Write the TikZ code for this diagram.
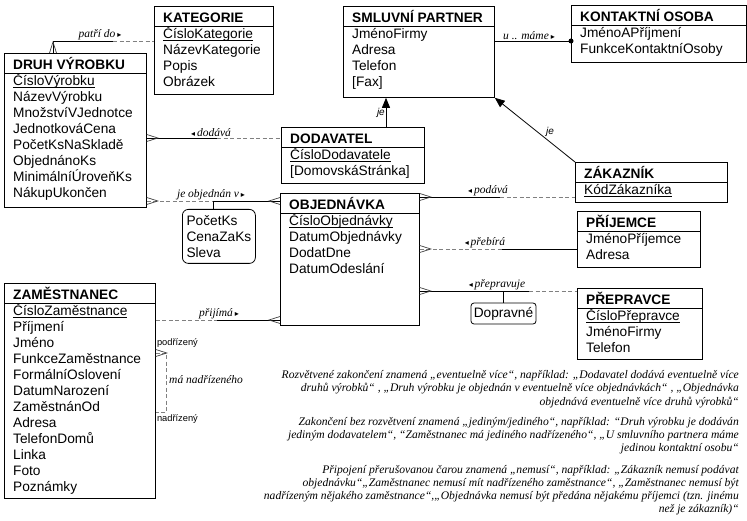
\documentclass[tikz,border=0pt]{standalone}
\usepackage{fontspec}
\setmainfont{Liberation Sans}
\newfontfamily\patkove{Liberation Serif}
\newfontfamily\symboly{DejaVu Sans}
\usepackage{tikz}
\usetikzlibrary{arrows.meta,positioning,calc}

\newcommand{\klic}[1]{\setbox0=\hbox{#1}\rlap{\rule[-2.3pt]{\wd0}{0.7pt}}\box0}
\newcommand{\vpravo}{\,{\symboly\upshape\fontsize{8}{8}\selectfont ▸}}
\newcommand{\vlevo}{{\symboly\upshape\fontsize{8}{8}\selectfont ◂}\,}

\begin{document}
\begin{tikzpicture}[x=1pt,y=-1pt,font=\fontsize{13.7}{16}\selectfont,
  entita/.style={draw,line width=0.8pt,anchor=north west,inner sep=0pt},
  nadpis/.style={anchor=base west,inner sep=0pt,font=\fontsize{13.7}{16}\selectfont\bfseries},
  polozky/.style={anchor=north west,inner sep=0pt,align=left},
  atrib/.style={draw,line width=0.8pt,rounded corners=6pt,align=left,inner xsep=3pt},
  plna/.style={line width=0.8pt},
  prer/.style={line width=0.8pt,black!50,dash pattern=on 4pt off 2.5pt},
  sipka/.style={line width=0.8pt,-{Triangle[length=10pt,width=8pt]}},
  popis/.style={inner sep=1pt,font=\patkove\itshape\fontsize{11.5}{12}\selectfont},
  jeje/.style={inner sep=1pt,font=\itshape\fontsize{10}{10}\selectfont},
  maly/.style={inner sep=1pt,font=\fontsize{9.3}{10}\selectfont},
  pozn/.style={anchor=base east,inner sep=0pt,font=\patkove\itshape\fontsize{11.6}{13}\selectfont},
  noha/.pic={\draw[line width=0.7pt,black!75] (0,-3.5) -- (11,0) -- (0,3.5);}]
\useasboundingbox (0,0) rectangle (747,521);

% entity
\foreach \jm/\x/\y/\w/\h/\nazev/\atr in {
  kat/154/6/119/88/KATEGORIE/{\klic{ČísloKategorie}\\NázevKategorie\\Popis\\Obrázek},
  druh/4/53/142/154/DRUH VÝROBKU/{\klic{ČísloVýrobku}\\NázevVýrobku\\MnožstvíVJednotce\\JednotkováCena\\PočetKsNaSkladě\\ObjednánoKs\\MinimálníÚroveňKs\\NákupUkončen},
  sml/343/6/151/91/SMLUVNÍ PARTNER/{JménoFirmy\\Adresa\\Telefon\\{[Fax]}},
  kont/571/5/175/57/KONTAKTNÍ OSOBA/{JménoAPříjmení\\FunkceKontaktníOsoby},
  dod/281/127/143/56/DODAVATEL/{\klic{ČísloDodavatele}\\{[DomovskáStránka]}},
  zak/575/162/152/40/ZÁKAZNÍK/{\klic{KódZákazníka}},
  obj/280/193/139/132/OBJEDNÁVKA/{\klic{ČísloObjednávky}\\DatumObjednávky\\DodatDne\\DatumOdeslání},
  prij/577/211/123/56/PŘÍJEMCE/{JménoPříjemce\\Adresa},
  prep/577/288/125/71/PŘEPRAVCE/{\klic{ČísloPřepravce}\\JménoFirmy\\Telefon},
  zam/4/283/151/215/ZAMĚSTNANEC/{\klic{ČísloZaměstnance}\\Příjmení\\Jméno\\FunkceZaměstnance\\FormálníOslovení\\DatumNarození\\ZaměstnánOd\\Adresa\\TelefonDomů\\Linka\\Foto\\Poznámky}}
{
  \node[entita,minimum width=\w,minimum height=\h] (\jm) at (\x,\y) {};
  \node[nadpis] (\jm-n) at ([shift={(9,16.5)}]\jm.north west) {\nazev};
  \draw[line width=0.8pt] ([shift={(0,20.5)}]\jm.north west) -- ([shift={(0,20.5)}]\jm.north east);
  \node[polozky] (\jm-p) at ([shift={(9,19.5)}]\jm.north west) {\rule{0pt}{13pt}\atr};
}

\node[atrib,anchor=north west,minimum width=73,minimum height=54] (pol) at (182,209) {PočetKs\\CenaZaKs\\Sleva};
\node[atrib,rounded corners=3pt,minimum width=65,minimum height=21,inner sep=1pt] (dopr) at (503.5,313.5) {Dopravné};

% patri do
\coordinate (p1) at ([xshift=49pt]druh.north west);
\coordinate (p2) at (113,41);
\draw[plna] (p1) |- (p2);
\draw[prer] (p2) -- (kat.west |- p2);
\node[popis,above,xshift=-13pt] (l-patri) at (p2) {patří do\vpravo};
\pic[rotate=90] at (p1) {noha};

% dodava
\coordinate (d1) at (druh.east |- 0,138);
\coordinate (d2) at (217,138);
\draw[plna] (d1) -- (d2);
\draw[prer] (d2) -- (dod.west |- d2);
\node[popis,above,xshift=-6pt] (l-dodava) at (d2) {\vlevo dodává};
\pic at (d1) {noha};

% je objednan v
\coordinate (o1) at (druh.east |- 0,201);
\coordinate (o2) at (213,201);
\draw[prer] (o1) -- (o2);
\draw[plna] (o2) -- (obj.west |- o2);
\draw[plna] (o2) -- (pol.north -| o2);
\node[popis,above,xshift=-2pt] (l-objednan) at (o2) {je objednán v\vpravo};
\pic at (o1) {noha};
\pic[rotate=180] at (obj.west |- o2) {noha};

% podava
\coordinate (z1) at (obj.east |- 0,197);
\coordinate (z2) at (500,197);
\draw[plna] (z1) -- (z2);
\draw[prer] (z2) -- (zak.west |- z2);
\node[popis,above,xshift=-12pt] (l-podava) at (z2) {\vlevo podává};
\pic at (z1) {noha};

% prebira
\coordinate (r1) at (obj.east |- 0,249);
\coordinate (r2) at (502,249);
\draw[prer] (r1) -- (r2);
\draw[plna] (r2) -- (prij.west |- r2);
\node[popis,above,xshift=-17pt] (l-prebira) at (r2) {\vlevo přebírá};
\pic at (r1) {noha};

% prepravuje
\coordinate (t1) at (obj.east |- 0,291);
\coordinate (t2) at (529,291);
\draw[plna] (t1) -- (t2);
\draw[prer] (t2) -- (prep.west |- t2);
\draw[plna] (dopr.north) -- (dopr.north |- t1);
\node[popis,above,xshift=-32pt] (l-preprav) at (t2) {\vlevo přepravuje};
\pic at (t1) {noha};

% prijima
\coordinate (a1) at (zam.east |- 0,320);
\coordinate (a2) at (217,320);
\draw[prer] (a1) -- (a2);
\draw[plna] (a2) -- (obj.west |- a2);
\node[popis,above,xshift=2pt] (l-prijima) at (a2) {přijímá\vpravo};
\pic[rotate=180] at (obj.west |- a2) {noha};

% ma nadrizeneho
\coordinate (n1) at (zam.east |- 0,353);
\coordinate (n2) at (zam.east |- 0,412);
\draw[prer] (n1) -| ([xshift=11pt]n2) -- (n2);
\pic at (n1) {noha};
\node[maly,anchor=west] (l-podr) at ([yshift=10pt]n1) {podřízený};
\node[maly,anchor=west] (l-nadr) at ([yshift=-7pt]n2) {nadřízený};
\node[popis,anchor=west] (l-ma) at (168,380) {má nadřízeného};

% je
\coordinate (j1) at ([xshift=105pt]dod.north west);
\draw[sipka] (j1) -- (sml.south -| j1);
\node[jeje,anchor=east] (l-je1) at (j1 |- 0,113) {je};
\draw[sipka] (zak.north west) -- (sml.south east);
\node[jeje] (l-je2) at (550,132) {je};

% u .. mame
\coordinate (u1) at (sml.east |- 0,41);
\coordinate (u2) at (kont.west |- u1);
\draw[plna] (u1) -- (u2);
\fill (u2) circle (2.5pt);
\node[popis,above] (l-mame) at (529,41) {u .. máme\vpravo};

% poznamky
\foreach \yy/\radek [count=\i] in {
  378.5/{Rozvětvené zakončení  znamená „eventuelně více“, například: „Dodavatel dodává eventuelně více},
  391.8/{druhů výrobků“ , „Druh výrobku je objednán v eventuelně více objednávkách“ , „Objednávka},
  405.1/{objednává eventuelně více druhů výrobků“},
  425/{Zakončení bez rozvětvení znamená „jediným/jediného“, například: “Druh výrobku je dodáván},
  438.3/{jediným dodavatelem“, “Zaměstnanec má jediného nadřízeného“, „U smluvního partnera máme},
  451.6/{jedinou  kontaktní osobu“},
  473/{Připojení přerušovanou čarou znamená „nemusí“, například: „Zákazník nemusí podávat},
  486.3/{objednávku“„Zaměstnanec nemusí mít nadřízeného zaměstnance“, „Zaměstnanec nemusí být},
  499.6/{nadřízeným nějakého zaměstnance“,„Objednávka nemusí být předána nějakému příjemci (tzn. jinému},
  512.9/{než je zákazník)“}}
  \node[pozn] (pozn\i) at (739,\yy) {\radek};
\end{tikzpicture}
\end{document}
